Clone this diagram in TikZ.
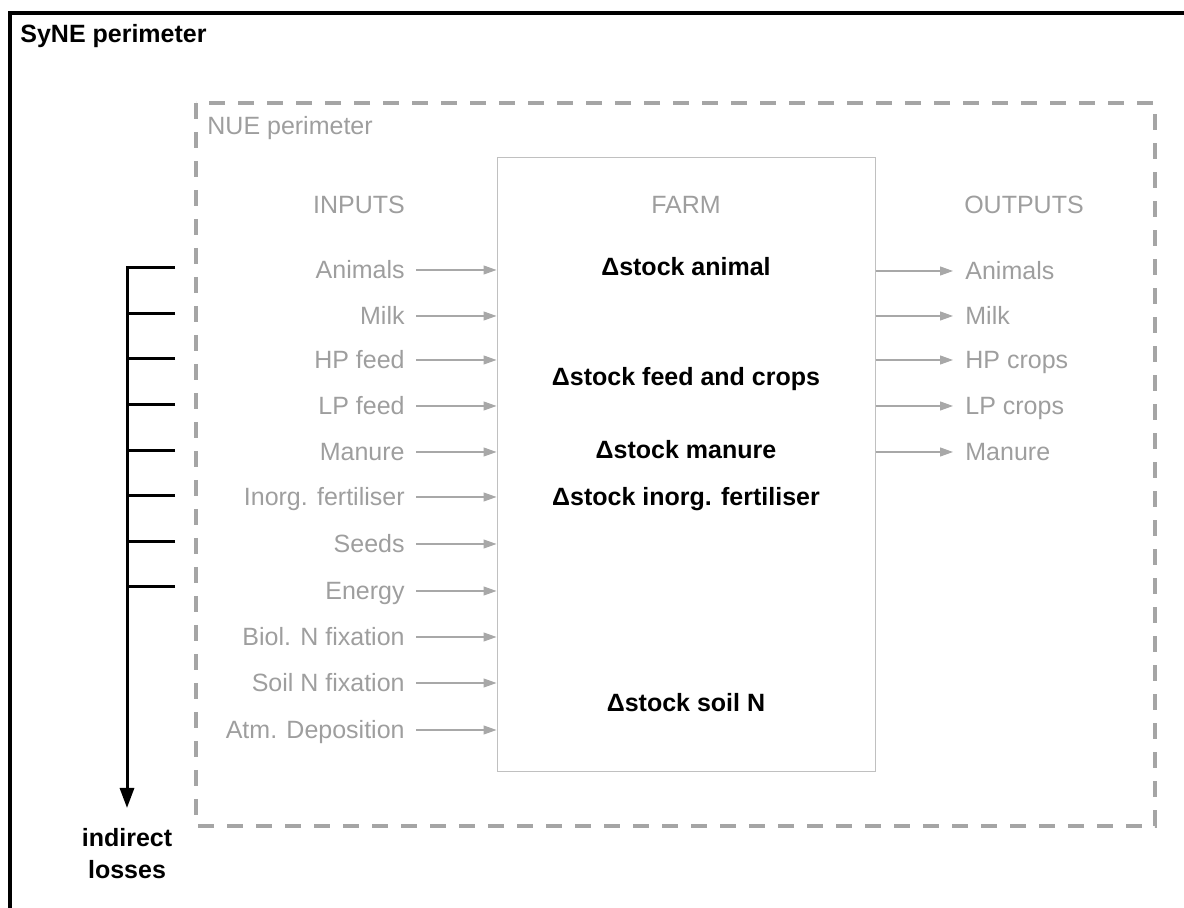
\documentclass[tikz,border=0pt]{standalone}
\usepackage{fontspec}
\setmainfont{Liberation Sans}
\usetikzlibrary{arrows.meta,positioning}

\definecolor{labelgray}{RGB}{158,158,158}
\definecolor{linegray}{RGB}{168,168,168}
\definecolor{boxgray}{RGB}{192,192,192}
\definecolor{dashgray}{RGB}{165,165,165}
\newcommand{\diafont}{\fontsize{12.5pt}{15pt}\selectfont}

\tikzset{
  txt/.style={font=\diafont, inner sep=0pt},
  grey label/.style={txt, text=labelgray, text height=9pt, text depth=0pt},
  stock label/.style={font=\diafont\bfseries, inner sep=0pt},
  flow/.style={draw=linegray, line width=0.6pt, -{Triangle[length=6.5pt,width=4.5pt]}},
  loss line/.style={draw=black, line width=1.5pt},
  farm box/.style={draw=boxgray, line width=0.5pt, minimum width=189pt, minimum height=307pt, inner sep=0pt},
  nue box/.style={draw=dashgray, line width=2pt, dash pattern=on 8pt off 6.5pt}
}

\begin{document}
\begin{tikzpicture}[x=0.5pt,y=-0.5pt]
   \useasboundingbox (0,0) rectangle (1184,908);
   % perimeters
   \draw[line width=1.6pt] (1190,13) -- (10,13) -- (10,915);
   \node[stock label, anchor=base west] (syne) at (20,43) {SyNE perimeter};
   \draw[nue box] (196,103) rectangle (1155,826);
   \node[txt, text=labelgray, anchor=base west] (nue) at (207,135) {NUE perimeter};
   % farm
   \node[farm box] (farm) at (686,465) {};
   \node[txt, text=labelgray, anchor=base] (farmtitle) at (686,214) {FARM};
   \node[txt, text=labelgray, anchor=base] (inputs) at (359,214) {INPUTS};
   \node[txt, text=labelgray, anchor=base] (outputs) at (1024,214) {OUTPUTS};
   \node[stock label, anchor=base] (stanimal) at (686,276) {Δstock animal};
   \node[stock label, anchor=base] (stfeed) at (686,386) {Δstock feed and crops};
   \node[stock label, anchor=base] (stmanure) at (686,459) {Δstock manure};
   \node[stock label, anchor=base] (stfert) at (686,506) {Δstock inorg. fertiliser};
   \node[stock label, anchor=base] (stsoil) at (686,712) {Δstock soil N};
   % inputs
   \foreach \y/\name [count=\i] in {270/Animals, 316/Milk, 360/HP feed, 406/LP feed,
       452/Manure, 497/Inorg. fertiliser, 544/Seeds, 591/Energy,
       637/Biol. N fixation, 683/Soil N fixation, 730/Atm. Deposition}
   {
     \node[grey label, anchor=east, inner xsep=5.5pt] (in\i) at (416,\y) {\name};
     \draw[flow] (in\i.east) -- (in\i.east -| farm.west);
   }
   % outputs
   \foreach \y/\name [count=\i] in {271/Animals, 316/Milk, 360/HP crops, 406/LP crops, 452/Manure}
   {
     \node[grey label, anchor=west, inner xsep=6pt] (out\i) at (953,\y) {\name};
     \draw[flow] (farm.east |- out\i.west) -- (out\i.west);
   }
   % indirect losses
   \coordinate (spine) at (127,268);
   \coordinate (spine end) at (127,808);
   \foreach \y [count=\i] in {268,314,359,405,451,496,542,587}
     \coordinate (tick\i) at (175,\y);
   \draw[loss line, -{Triangle[length=10pt,width=7pt]}] (tick1) -- (spine) -- (spine end);
   \foreach \i in {2,...,8}
     \draw[loss line] (tick\i) -- (tick\i -| spine);
   \node[stock label, anchor=base] (loss) at (127,847) {indirect};
   \node[stock label, anchor=base] (loss2) at (127,878) {losses};
\end{tikzpicture}
\end{document}
